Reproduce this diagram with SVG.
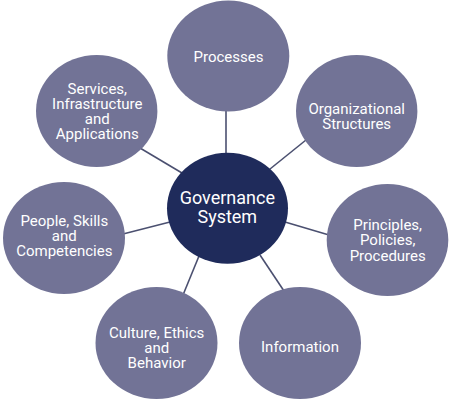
<svg xmlns="http://www.w3.org/2000/svg" width="450" height="401" viewBox="0 0 450 401">
<style>
.o{fill:#727396}
.c{fill:#1f2b5b}
.t{font-family:Roboto,"Liberation Sans",sans-serif;font-size:15px;fill:#ffffff;text-anchor:middle}
.g{font-size:18px}
.l{stroke:#4b5070;stroke-width:1.6}
</style>
<rect width="450" height="401" fill="#ffffff"/>
<g id="connectors">
<line class="l" x1="226" y1="110" x2="226" y2="155"/>
<line class="l" x1="306" y1="140" x2="270" y2="169"/>
<line class="l" x1="285" y1="222" x2="329" y2="235"/>
<line class="l" x1="260" y1="255" x2="284" y2="291"/>
<line class="l" x1="199" y1="256" x2="183" y2="295"/>
<line class="l" x1="170" y1="222" x2="123" y2="234"/>
<line class="l" x1="182" y1="173" x2="140" y2="148"/>
</g>
<g id="processes"><ellipse class="o" cx="228.3" cy="56" rx="61" ry="55.5"/><text class="t" x="228.5" y="62">Processes</text></g>
<g id="organizational"><ellipse class="o" cx="356.7" cy="111" rx="60.7" ry="56"/><text class="t" x="356.7" y="113.5">Organizational</text><text class="t" x="356.7" y="129">Structures</text></g>
<g id="principles"><ellipse class="o" cx="387.5" cy="240" rx="60.8" ry="56"/><text class="t" x="387.7" y="230">Principles,</text><text class="t" x="387.7" y="245.3">Policies,</text><text class="t" x="387.7" y="260.6">Procedures</text></g>
<g id="information"><ellipse class="o" cx="300" cy="343" rx="61" ry="56"/><text class="t" x="300" y="351.7">Information</text></g>
<g id="culture"><ellipse class="o" cx="156.5" cy="343" rx="61" ry="56"/><text class="t" x="156.7" y="337.7">Culture, Ethics</text><text class="t" x="156.7" y="353">and</text><text class="t" x="156.7" y="368.3">Behavior</text></g>
<g id="people"><ellipse class="o" cx="64" cy="238" rx="61" ry="56"/><text class="t" x="64.3" y="225.5">People, Skills</text><text class="t" x="64.3" y="240.8">and</text><text class="t" x="64.3" y="256.1">Competencies</text></g>
<g id="services"><ellipse class="o" cx="96.7" cy="111" rx="60.7" ry="56"/><text class="t" x="97.3" y="93.5">Services,</text><text class="t" x="97.3" y="108.8">Infrastructure</text><text class="t" x="97.3" y="124.1">and</text><text class="t" x="97.3" y="139.4">Applications</text></g>
<g id="governance"><ellipse class="c" cx="227.5" cy="208.2" rx="60.5" ry="55.5"/><text class="t g" x="227.3" y="204">Governance</text><text class="t g" x="227.3" y="222.5">System</text></g>
</svg>
